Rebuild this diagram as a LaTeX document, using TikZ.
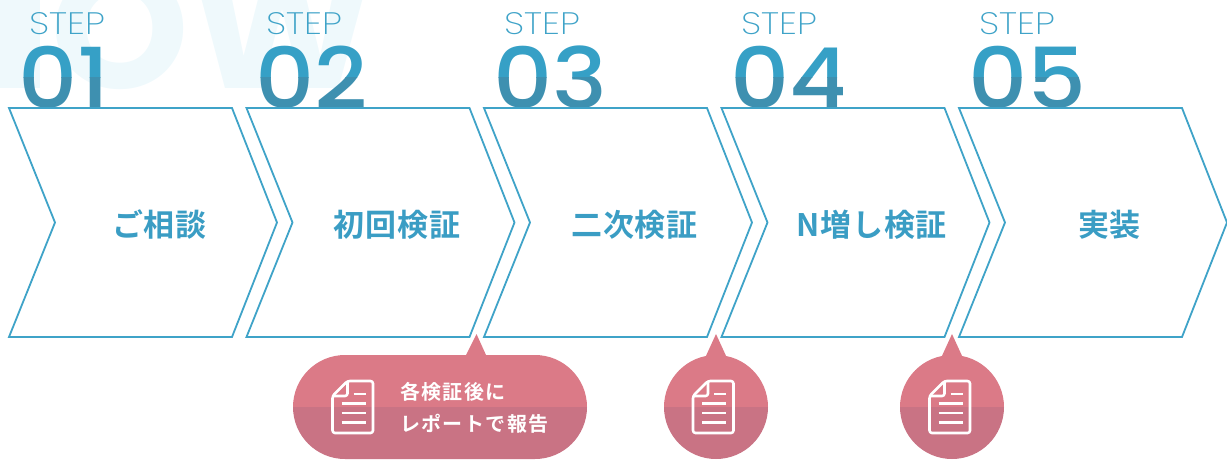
\documentclass[tikz,border=0pt]{standalone}
\usepackage{fontspec}
\setmainfont{Poppins}
\newfontfamily\lightf[FakeStretch=1.17]{Poppins ExtraLight}
\newfontfamily\medf[FakeStretch=1.1]{Poppins Medium}
\newfontfamily\semif[FakeStretch=1.04]{Poppins Bold}
\newfontfamily\jpb[LetterSpace=3]{Noto Sans CJK JP Bold}
\newfontfamily\jpm[LetterSpace=7]{Noto Sans CJK JP Bold}
\definecolor{linec}{HTML}{3FA3C8}
\definecolor{numtop}{HTML}{36A0C6}
\definecolor{numlow}{HTML}{3E90B0}
\definecolor{labelc}{HTML}{3A9DC4}
\definecolor{ghost}{HTML}{EFF9FC}
\definecolor{pinktop}{HTML}{DB7A87}
\definecolor{pinklow}{HTML}{C97384}
\tikzset{
  x=1pt,y=-1pt,
  chevron/.style={draw=linec,line width=1.8pt,fill=white,line join=miter},
  steptxt/.style={inner sep=0pt,anchor=base west,text=linec,font=\lightf\fontsize{31}{31}\selectfont},
  numtxt/.style={inner sep=0pt,anchor=base west,font=\medf\fontsize{84}{84}\selectfont},
  maintxt/.style={inner sep=0pt,anchor=center,text=labelc,font=\jpb\fontsize{31}{31}\selectfont},
  smalltxt/.style={inner sep=0pt,anchor=base west,text=white,font=\jpm\fontsize{20}{20}\selectfont},
  iconline/.style={draw=white,line width=2.6pt},
  iconbody/.style={draw=white,line width=2.6pt,line join=round,rounded corners=2.5pt},
}
% #1 = x offset, #2 = number, #3 = name
\newcommand{\stepnum}[3]{%
  \node[steptxt] (s#3) at (#1+29,34) {STEP};
  \begin{scope}
    \clip (#1+0,30) rectangle (#1+130,77);
    \node[numtxt,text=numtop] (n#3) at (#1+18,108) {#2};
  \end{scope}
  \begin{scope}
    \clip (#1+0,77) rectangle (#1+130,108);
    \node[numtxt,text=numlow] at (#1+18,108) {#2};
  \end{scope}
}
\newcommand{\chev}[3]{%
  \draw[chevron] (#1+9,108) -- (#1+232,108) -- (#1+277,222.5) -- (#1+232,337) -- (#1+9,337) -- (#1+55,222.5) -- cycle;
  \node[maintxt] (c#3) at (#1+#2,230) {\strut\smash{#3}};
}
\newcommand{\docicon}[1]{%
  \draw[iconbody] (#1+708,381) -- (#1+733.5,381) -- (#1+733.5,433) -- (#1+693,433) -- (#1+693,396) -- cycle;
  \draw[iconbody] (#1+708,381) -- (#1+708,396) -- (#1+693,396);
  \draw[iconline] (#1+714,394) -- (#1+726,394);
  \draw[iconline] (#1+702,403.5) -- (#1+726,403.5);
  \draw[iconline] (#1+702,413) -- (#1+726,413);
  \draw[iconline] (#1+702,422.5) -- (#1+726,422.5);
}
\begin{document}
\begin{tikzpicture}
\useasboundingbox (0,0) rectangle (1227,459);
% ghost background lettering
\begin{scope}
  \clip (0,0) rectangle (1227,459);
  \fill[ghost] (0,0) rectangle (40,88);
  \node[inner sep=0pt,anchor=base west,text=ghost,font=\semif\fontsize{170}{170}\selectfont] (ghosttxt) at (50,88) {OW};
\end{scope}
\stepnum{0}{01}{a}
\stepnum{237.5}{02}{b}
\stepnum{475}{03}{c}
\stepnum{712.5}{04}{d}
\stepnum{950}{05}{e}
\chev{0}{159.5}{ご相談}
\chev{237.5}{159.5}{初回検証}
\chev{475}{159.5}{二次検証}
\chev{712.5}{159}{N増し検証}
\chev{950}{159.5}{実装}
% bubbles: upper tone
\begin{scope}
  \clip (280,325) rectangle (1010,407);
  \fill[pinktop] (345,355) -- (466,355) -- (476.5,334) -- (486,355) -- (535,355) arc[start angle=-90,end angle=90,radius=52] -- (345,459) arc[start angle=90,end angle=270,radius=52] -- cycle;
  \fill[pinktop] (716,407) circle[radius=52];
  \fill[pinktop] (705,358) -- (716,334) -- (727,358) -- cycle;
  \fill[pinktop] (952,407) circle[radius=52];
  \fill[pinktop] (941,358) -- (952,334) -- (963,358) -- cycle;
\end{scope}
\begin{scope}
  \clip (280,407) rectangle (1010,459);
  \fill[pinklow] (345,355) -- (535,355) arc[start angle=-90,end angle=90,radius=52] -- (345,459) arc[start angle=90,end angle=270,radius=52] -- cycle;
  \fill[pinklow] (716,407) circle[radius=52];
  \fill[pinklow] (952,407) circle[radius=52];
\end{scope}
\docicon{-360.5}
\docicon{0}
\docicon{236.5}
\node[smalltxt] (t1) at (400,399.5) {各検証後に};
\node[smalltxt] (t2) at (400,431.5) {レポートで報告};
\end{tikzpicture}
\end{document}
